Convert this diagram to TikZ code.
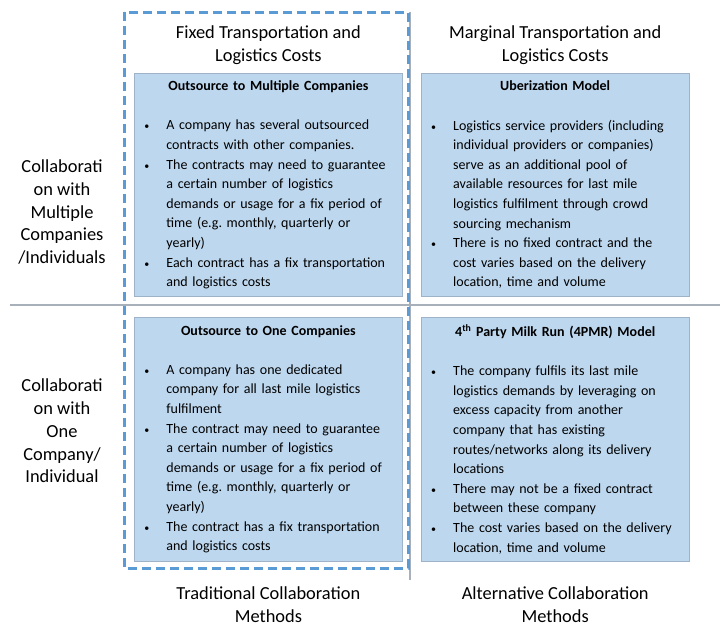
\documentclass[tikz,border=0pt]{standalone}
\usepackage{fontspec}
\setmainfont{Carlito}
\usepackage{enumitem}
\usetikzlibrary{positioning}

\definecolor{cardfill}{RGB}{189,215,238}
\definecolor{cardline}{RGB}{158,178,200}
\definecolor{dashblue}{RGB}{91,155,213}
\definecolor{gridgray}{RGB}{168,176,186}

% card heading and bullet list
\newcommand{\cardtitle}[1]{{\centering\bfseries #1\par}\vspace{19.6pt}}
\newcommand{\smallbullet}{{\fontsize{10pt}{10pt}\selectfont\textbullet}}
\newenvironment{points}{\begin{itemize}[label=\smallbullet, leftmargin=26pt, labelwidth=6pt, labelsep=16pt, align=left, nosep]}{\end{itemize}}
\frenchspacing

\begin{document}
\begin{tikzpicture}[
    x=1pt, y=-1pt,
    card/.style={draw=cardline, fill=cardfill, line width=0.8pt, inner xsep=6pt, inner ysep=0pt,
        text width=256pt, align=left, anchor=north west, font=\fontsize{14pt}{19.6pt}\selectfont},
    head/.style={align=center, inner sep=0pt, font=\fontsize{18.4pt}{22.8pt}\selectfont},
    grid/.style={draw=gridgray, line width=1.2pt},
    frame/.style={draw=dashblue, line width=3pt, dash pattern=on 9pt off 5pt},
]
    \useasboundingbox (0,0) rectangle (722,627);

    % quadrant lines
    \coordinate (rowl) at (10,305);
    \coordinate (rowr) at (720,305);
    \coordinate (colt) at (410,12);
    \coordinate (colb) at (410,580);
    \draw[grid] (rowl) -- (rowr);
    \draw[grid] (colt) -- (colb);

    \node[card, minimum height=223pt] (multi) at (134,73) {%
        \cardtitle{Outsource to Multiple Companies}
        \begin{points}
        \item A company has several outsourced\\contracts with other companies.
        \item The contracts may need to guarantee\\a certain number of logistics\\demands or usage for a fix period of\\time (e.g. monthly, quarterly or\\yearly)
        \item Each contract has a fix transportation\\and logistics costs
        \end{points}};
    \node[card, minimum height=223pt, right=18pt of multi] (uber) {%
        \cardtitle{Uberization Model}
        \begin{points}
        \item Logistics service providers (including\\individual providers or companies)\\serve as an additional pool of\\available resources for last mile\\logistics fulfilment through crowd\\sourcing mechanism
        \item There is no fixed contract and the\\cost varies based on the delivery\\location, time and volume
        \end{points}};
    \node[card, minimum height=244pt, below=20pt of multi] (one) {%
        \cardtitle{Outsource to One Companies}
        \begin{points}
        \item A company has one dedicated\\company for all last mile logistics\\fulfilment
        \item The contract may need to guarantee\\a certain number of logistics\\demands or usage for a fix period of\\time (e.g. monthly, quarterly or\\yearly)
        \item The contract has a fix transportation\\and logistics costs
        \end{points}};
    \node[card, minimum height=244pt, below=20pt of uber] (milkrun) {%
        \cardtitle{4\textsuperscript{th} Party Milk Run (4PMR) Model}
        \begin{points}
        \item The company fulfils its last mile\\logistics demands by leveraging on\\excess capacity from another\\company that has existing\\routes/networks along its delivery\\locations
        \item There may not be a fixed contract\\between these company
        \item The cost varies based on the delivery\\location, time and volume
        \end{points}};

    % column and row headings
    \node[head, above=8pt of multi] (fixed) {Fixed Transportation and\\Logistics Costs};
    \node[head, above=8pt of uber] (marginal) {Marginal Transportation and\\Logistics Costs};
    \node[head, below=25pt of one] (trad) {Traditional Collaboration\\Methods};
    \node[head, below=25pt of milkrun] (alt) {Alternative Collaboration\\Methods};
    \node[head] (manyrow) at (62,212) {Collaborati\\on with\\Multiple\\Companies\\/Individuals};
    \node[head] (onerow) at (62,431) {Collaborati\\on with\\One\\Company/\\Individual};

    % traditional methods column
    \draw[frame] (124,12) rectangle (408,568);
\end{tikzpicture}
\end{document}
